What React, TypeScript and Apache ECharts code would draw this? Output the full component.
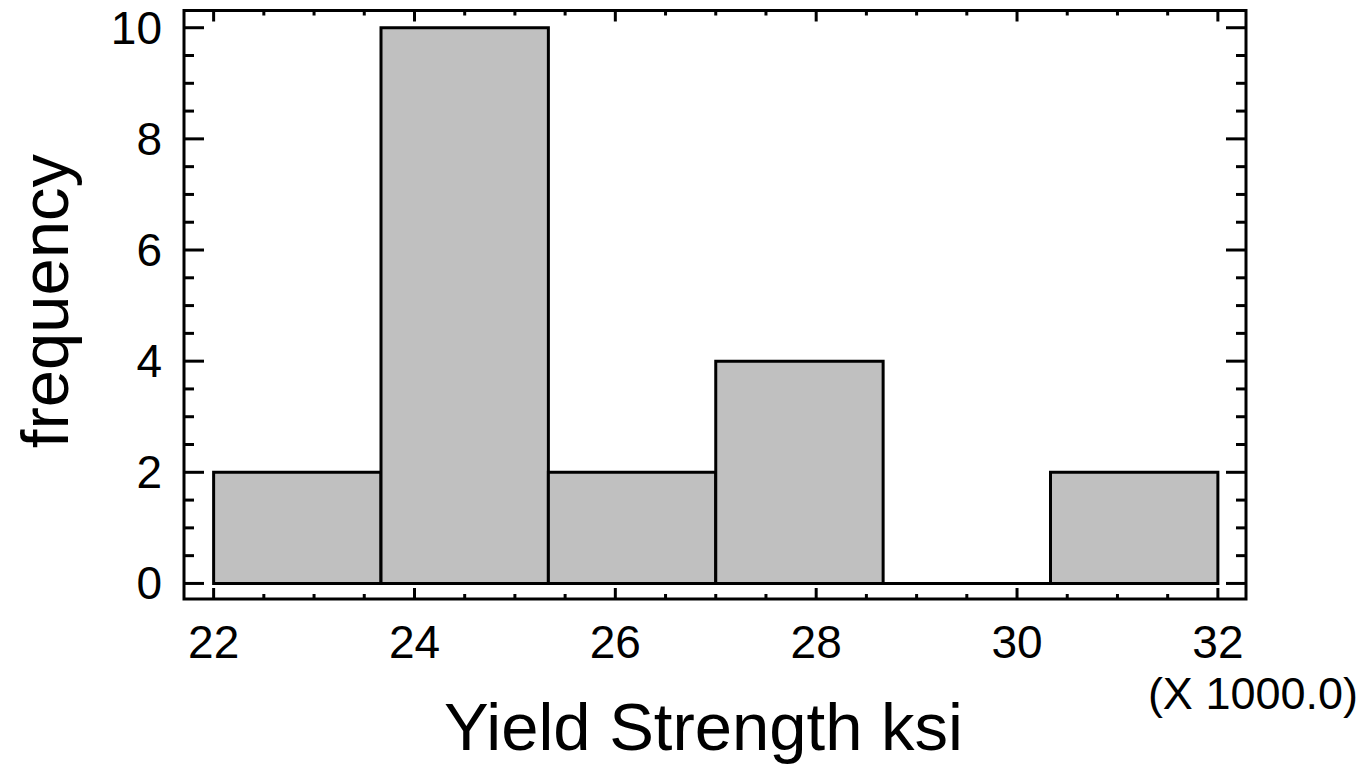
import React, { useEffect, useRef } from "react";
import * as echarts from "echarts";

// Histogram bins (lower edge, upper edge) and their frequencies
const binLower = [22, 23.6667, 25.3333, 27, 28.6667, 30.3333];
const binUpper = [23.6667, 25.3333, 27, 28.6667, 30.3333, 32];
const frequencies = [2, 10, 2, 4, 0, 2];

// Tick values
const xMajorTicks = [22, 24, 26, 28, 30, 32];
const xMinorTicks = [22.5, 23, 23.5, 24.5, 25, 25.5, 26.5, 27, 27.5, 28.5, 29, 29.5, 30.5, 31, 31.5];
const yMajorTicks = [0, 2, 4, 6, 8, 10];
const yMinorTicks = [0.5, 1, 1.5, 2.5, 3, 3.5, 4.5, 5, 5.5, 6.5, 7, 7.5, 8.5, 9, 9.5];

const xTitle = "Yield Strength ksi";
const yTitle = "frequency";
const scaleNote = "(X 1000.0)";

const FONT = "'Liberation Sans', Arial, sans-serif";

export default function App() {
  const ref = useRef<HTMLDivElement>(null);

  useEffect(() => {
    if (!ref.current) return;
    const chart = echarts.init(ref.current, undefined, { renderer: "svg" });

    const bins = binLower.map((lo, i) => [lo, binUpper[i], frequencies[i]]);

    const xTickRender = (len: number) => (params: any, api: any) => {
      const cs = params.coordSys;
      const x = api.coord([api.value(0), 0])[0];
      const top = cs.y;
      const bottom = cs.y + cs.height;
      const style = { stroke: "#000", lineWidth: 3 };
      return {
        type: "group",
        children: [
          { type: "line", shape: { x1: x, y1: bottom, x2: x, y2: bottom - len }, style },
          { type: "line", shape: { x1: x, y1: top, x2: x, y2: top + len }, style },
        ],
      };
    };
    const yTickRender = (len: number) => (params: any, api: any) => {
      const cs = params.coordSys;
      const y = api.coord([22, api.value(1)])[1];
      const left = cs.x;
      const right = cs.x + cs.width;
      const style = { stroke: "#000", lineWidth: 3 };
      return {
        type: "group",
        children: [
          { type: "line", shape: { x1: left, y1: y, x2: left + len, y2: y }, style },
          { type: "line", shape: { x1: right, y1: y, x2: right - len, y2: y }, style },
        ],
      };
    };

    chart.setOption({
      animation: false,
      backgroundColor: "#fff",
      grid: {
        left: 184,
        top: 10.5,
        width: 1062,
        height: 588.5,
        show: true,
        borderColor: "#000",
        borderWidth: 3,
        backgroundColor: "transparent",
      },
      xAxis: {
        type: "value",
        min: 21.705,
        max: 32.28,
        axisLine: { show: false },
        axisTick: { show: false },
        splitLine: { show: false },
        axisLabel: {
          customValues: xMajorTicks,
          color: "#000",
          fontFamily: FONT,
          fontSize: 46,
          lineHeight: 40,
          margin: 23,
        },
      },
      yAxis: {
        type: "value",
        min: -0.28,
        max: 10.31,
        axisLine: { show: false },
        axisTick: { show: false },
        splitLine: { show: false },
        axisLabel: {
          customValues: yMajorTicks,
          color: "#000",
          fontFamily: FONT,
          fontSize: 46,
          margin: 22,
        },
      },
      graphic: [
        {
          type: "text",
          x: 703.5,
          y: 726,
          style: {
            text: xTitle,
            fill: "#000",
            font: `67px ${FONT}`,
            textAlign: "center",
            textVerticalAlign: "middle",
          },
        },
        {
          type: "text",
          x: 44,
          y: 301,
          rotation: Math.PI / 2,
          style: {
            text: yTitle,
            fill: "#000",
            font: `67px ${FONT}`,
            textAlign: "center",
            textVerticalAlign: "middle",
          },
        },
        {
          type: "text",
          x: 1358,
          y: 693,
          style: {
            text: scaleNote,
            fill: "#000",
            font: `45px ${FONT}`,
            lineHeight: 36,
            textAlign: "right",
            textVerticalAlign: "middle",
          },
        },
      ],
      series: [
        {
          type: "custom",
          data: bins,
          encode: { x: [0, 1], y: 2 },
          renderItem: (params: any, api: any) => {
            const p0 = api.coord([api.value(0), api.value(2)]);
            const p1 = api.coord([api.value(1), 0]);
            return {
              type: "rect",
              shape: { x: p0[0], y: p0[1], width: p1[0] - p0[0], height: p1[1] - p0[1] },
              style: { fill: "#c0c0c0", stroke: "#000", lineWidth: 3 },
            };
          },
        },
        { type: "custom", data: xMajorTicks.map((v) => [v, 0]), renderItem: xTickRender(11) },
        { type: "custom", data: xMinorTicks.map((v) => [v, 0]), renderItem: xTickRender(5) },
        { type: "custom", data: yMajorTicks.map((v) => [22, v]), renderItem: yTickRender(20) },
        { type: "custom", data: yMinorTicks.map((v) => [22, v]), renderItem: yTickRender(10) },
      ],
    });

    return () => chart.dispose();
  }, []);

  return (
    <div
      ref={ref}
      style={{ position: "fixed", left: 0, top: 0, width: 1364, height: 765, background: "#fff" }}
    />
  );
}
